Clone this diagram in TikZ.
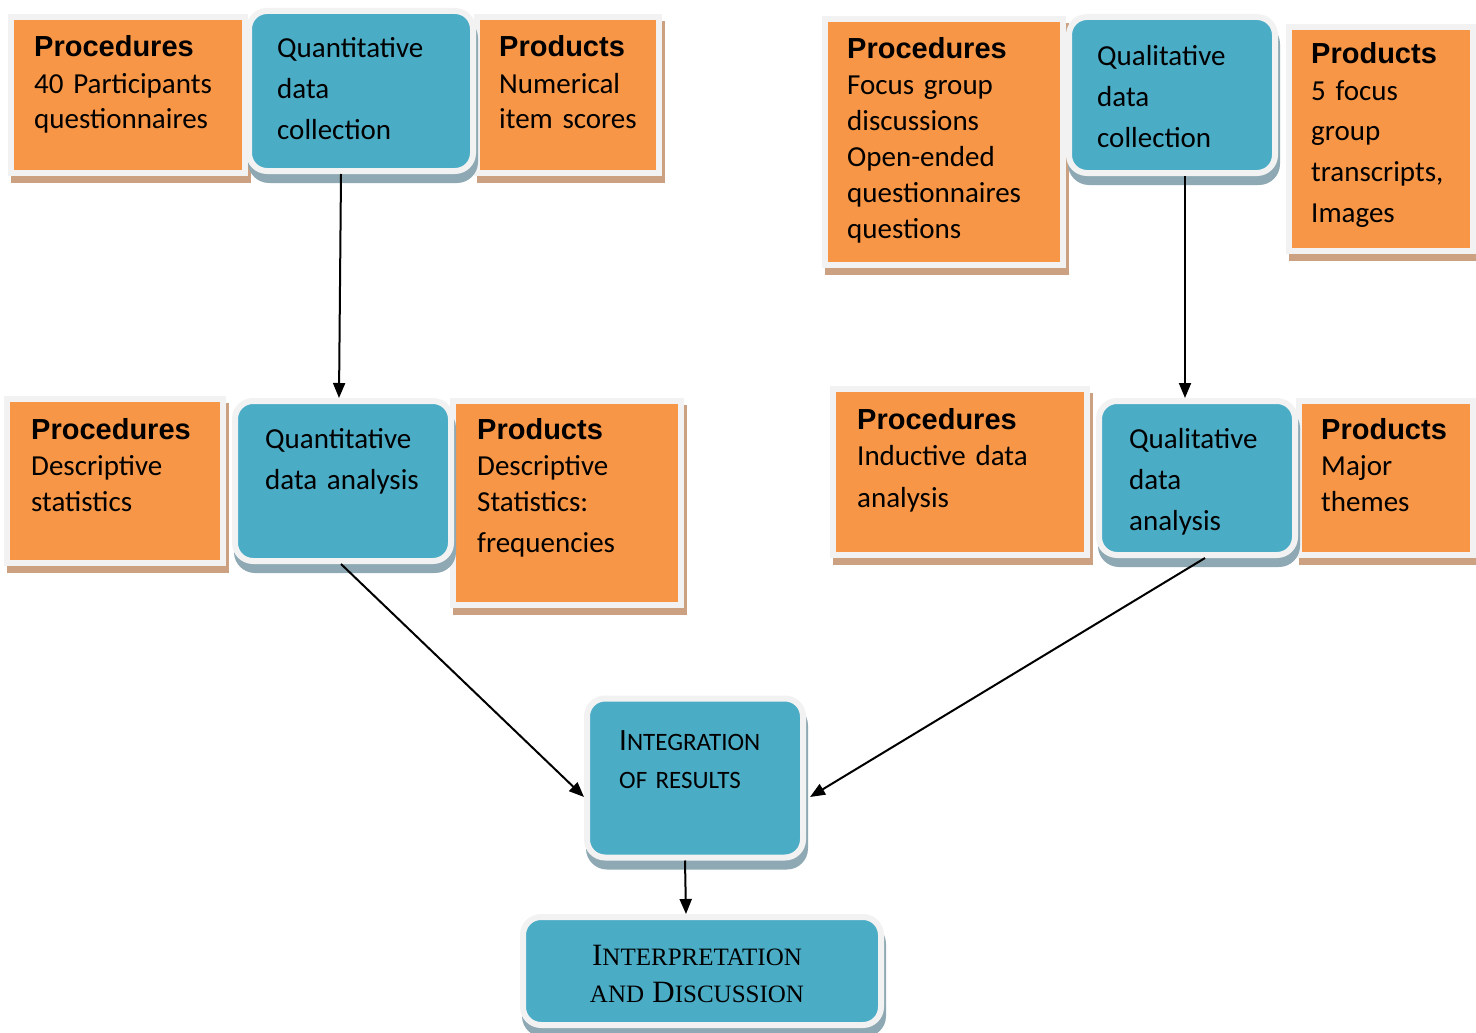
\documentclass[tikz,border=0pt]{standalone}
\usepackage{fontspec}
\setmainfont{Carlito}
\newfontfamily\headfont{Liberation Sans}
\newfontfamily\serffont{Liberation Serif}
\usetikzlibrary{arrows.meta,shadows}

\definecolor{orangefill}{HTML}{F79646}
\definecolor{bluefill}{HTML}{4BACC6}
\definecolor{framegray}{HTML}{F2F2F2}
\definecolor{tanshade}{HTML}{CBA182}
\definecolor{blueshade}{HTML}{8EA9B3}

\newcommand\headtitle[1]{{\headfont\bfseries #1}}
\newcommand\largecap[1]{{\fontsize{31}{38}\selectfont #1}}

\begin{document}
\begin{tikzpicture}[x=1pt, y=-1pt,
    orangebox/.style={rectangle, draw=framegray, line width=6pt, fill=orangefill, inner sep=0pt,
        drop shadow={shadow xshift=3pt, shadow yshift=-7pt, fill=tanshade, draw=tanshade,
            line width=6pt, opacity=1}},
    bluebox/.style={rectangle, rounded corners=18pt, draw=framegray, line width=6pt, fill=bluefill,
        inner sep=0pt, drop shadow={shadow xshift=2pt, shadow yshift=-9pt, fill=blueshade,
            draw=blueshade, line width=6pt, opacity=1}},
    boxtext/.style={anchor=base west, inner sep=0pt, align=left, text width=230pt,
        font=\fontsize{29}{36}\selectfont},
    bluetext/.style={boxtext, font=\fontsize{29}{41}\selectfont},
    flow/.style={line width=2pt, -{Triangle[length=15pt, width=12pt]}}
]
    \useasboundingbox (0,0) rectangle (1476,1033);

    % quantitative strand
    \node[orangebox, minimum width=234pt, minimum height=156pt] (proc1) at (128,95) {};
    \node[orangebox, minimum width=182pt, minimum height=156pt] (prod1) at (568,95) {};
    \node[bluebox, minimum width=224pt, minimum height=160pt] (qncoll) at (361,91) {};
    \node[orangebox, minimum width=216pt, minimum height=164pt] (proc3) at (115,481) {};
    \node[orangebox, minimum width=228pt, minimum height=204pt] (prod3) at (567,503) {};
    \node[bluebox, minimum width=216pt, minimum height=160pt] (qnana) at (343,481) {};

    % qualitative strand
    \node[orangebox, minimum width=238pt, minimum height=246pt] (proc2) at (944,142) {};
    \node[orangebox, minimum width=184pt, minimum height=224pt] (prod2) at (1381,139) {};
    \node[bluebox, minimum width=206pt, minimum height=156pt] (qlcoll) at (1172,95) {};
    \node[orangebox, minimum width=254pt, minimum height=166pt] (proc4) at (960,472) {};
    \node[orangebox, minimum width=174pt, minimum height=154pt] (prod4) at (1386,478) {};
    \node[bluebox, minimum width=196pt, minimum height=154pt] (qlana) at (1197,478) {};

    % merging
    \node[bluebox, minimum width=216pt, minimum height=159pt] (integ) at (695,778) {};
    \node[bluebox, minimum width=358pt, minimum height=108pt] (interp) at (702,971) {};

    % texts
    \node[boxtext] (proc1-t) at (34,57) {\headtitle{Procedures}\\40 Participants\\questionnaires};
    \node[bluetext] (qncoll-t) at (277,58) {Quantitative\\data\\collection};
    \node[boxtext] (prod1-t) at (499,57) {\headtitle{Products}\\Numerical\\item scores};
    \node[boxtext] (proc3-t) at (31,439) {\headtitle{Procedures}\\Descriptive\\statistics};
    \node[bluetext] (qnana-t) at (265,448) {Quantitative\\data analysis};
    \node[boxtext] (prod3-t) at (477,439) {\headtitle{Products}\\Descriptive\\Statistics:\\[5pt]frequencies};

    \node[boxtext] (proc2-t) at (847,59) {\headtitle{Procedures}\\Focus group\\discussions\\Open-ended\\questionnaires\\questions};
    \node[bluetext] (qlcoll-t) at (1097,66) {Qualitative\\data\\collection};
    \node[boxtext] (prod2-t) at (1311,64) {\headtitle{Products}\\5 focus\\[5pt]group\\[5pt]transcripts,\\[5pt]Images};
    \node[boxtext] (proc4-t) at (857,429) {\headtitle{Procedures}\\Inductive data\\[6pt]analysis};
    \node[bluetext] (qlana-t) at (1129,448) {Qualitative\\data\\analysis};
    \node[boxtext] (prod4-t) at (1321,439) {\headtitle{Products}\\Major\\themes};

    \node[boxtext, font=\fontsize{25}{38}\selectfont] (integ-t) at (619,750) {\largecap{I}NTEGRATION\\OF RESULTS};
    \node[boxtext, anchor=base, align=center, text width=340pt, font=\serffont\fontsize{25}{37}\selectfont]
        (interp-t) at (697,965) {\largecap{I}NTERPRETATION\\AND \largecap{D}ISCUSSION};

    % arrows
    \draw[flow] ([xshift=-20pt]qncoll.south) -- ([xshift=-4pt]qnana.north);
    \draw[flow] ([xshift=13pt]qlcoll.south) -- ([xshift=-12pt]qlana.north);
    \draw[flow] ([xshift=-2pt]qnana.south) -- ([yshift=-19pt]integ.west);
    \draw[flow] ([xshift=8pt]qlana.south) -- ([xshift=4pt, yshift=-19pt]integ.east);
    \draw[flow] ([xshift=-10pt]integ.south) -- ([xshift=-16pt]interp.north);
\end{tikzpicture}
\end{document}
